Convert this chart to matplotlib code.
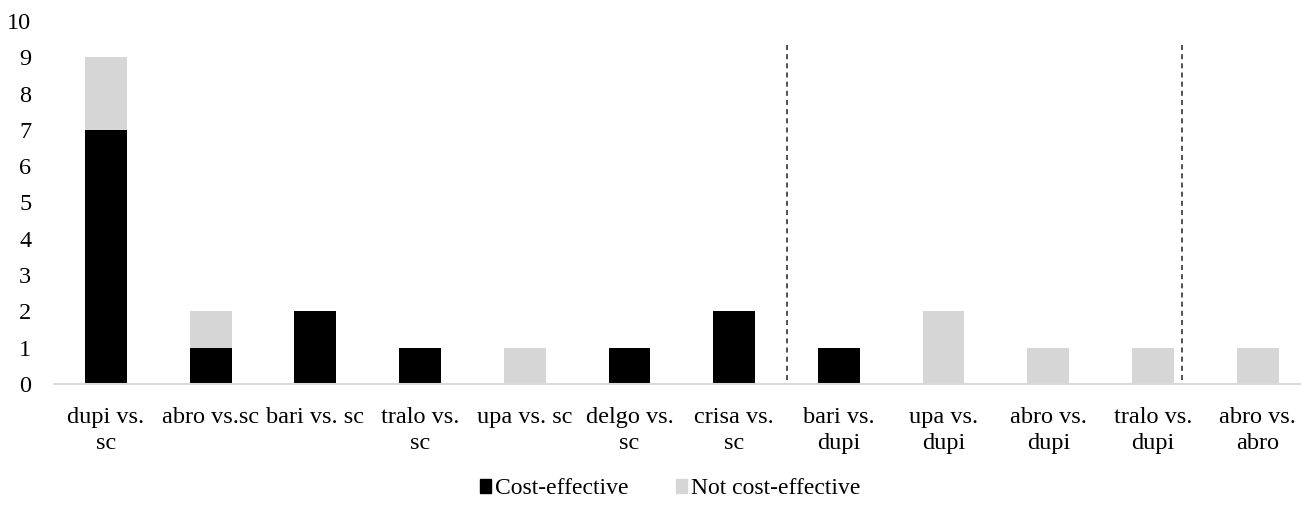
import matplotlib
matplotlib.use("Agg")
import matplotlib.pyplot as plt
from matplotlib.patches import Patch

categories = ["dupi vs.\nsc", "abro vs.sc", "bari vs. sc", "tralo vs.\nsc", "upa vs. sc",
              "delgo vs.\nsc", "crisa vs.\nsc", "bari vs.\ndupi", "upa vs.\ndupi",
              "abro vs.\ndupi", "tralo vs.\ndupi", "abro vs.\nabro"]
cost_effective = [7, 1, 2, 1, 0, 1, 2, 1, 0, 0, 0, 0]
not_cost_effective = [2, 1, 0, 0, 1, 0, 0, 0, 2, 1, 1, 1]
separators = [6.5, 10.28]
yticks = list(range(0, 11))

plt.rcParams['font.family'] = ['Liberation Serif', 'DejaVu Serif']

fig = plt.figure(figsize=(13.01, 5.05), dpi=100)
W, H = 1301, 505
left_px, right_px = 53.6, 1310.0
bottom_px, top_px = 384.0, 21.0
ax = fig.add_axes([left_px / W, 1 - bottom_px / H, (right_px - left_px) / W, (bottom_px - top_px) / H])

x = list(range(len(categories)))
black = "#000000"
gray = "#d6d6d6"
ax.bar(x, cost_effective, width=0.4, color=black, zorder=2)
ax.bar(x, not_cost_effective, width=0.4, bottom=cost_effective, color=gray, zorder=2)

for s in separators:
    ax.vlines(s, 0.1, 9.45, colors="#333333", linestyles=(0, (3, 2.5)), linewidth=1.2, zorder=3)

ax.set_xlim(-0.5, len(categories) - 0.5)
ax.set_ylim(0, 10)
ax.set_yticks(yticks)
ax.set_xticks(x)
ax.set_xticklabels(categories, fontsize=17.5, linespacing=1.3)
ax.tick_params(axis='y', length=0, pad=16, labelsize=17.5)
ax.tick_params(axis='x', length=0, pad=16.5)
for sp in ["top", "right", "left"]:
    ax.spines[sp].set_visible(False)
ax.spines["bottom"].set_color("#d9d9d9")
ax.spines["bottom"].set_linewidth(1.5)

handles = [Patch(facecolor=black, edgecolor=black, label="Cost-effective"),
           Patch(facecolor=gray, edgecolor=gray, label="Not cost-effective")]
fig.legend(handles=handles, loc="center", bbox_to_anchor=(670 / W, 1 - 489 / H), ncol=2,
           frameon=False, fontsize=17.0, handlelength=0.5, handleheight=0.5,
           handletextpad=0.15, columnspacing=2.0, borderpad=0)

fig.savefig("out.png", dpi=100)
